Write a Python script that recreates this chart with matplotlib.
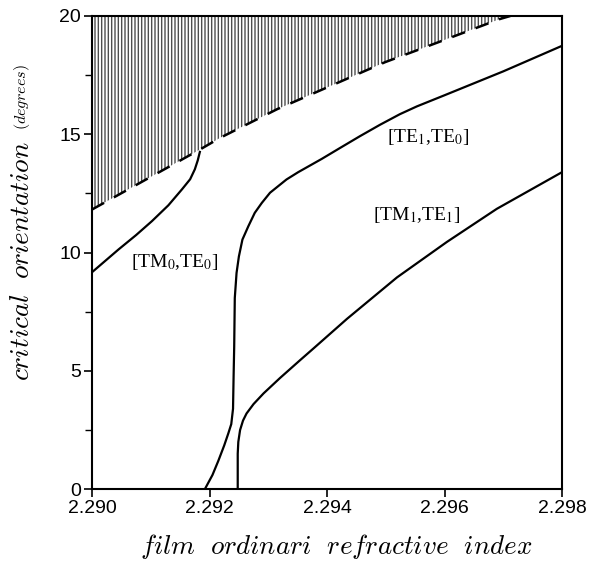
import numpy as np
import matplotlib
matplotlib.use("Agg")
import matplotlib.pyplot as plt
from matplotlib.ticker import MultipleLocator, FormatStrFormatter

# ---- data ----
boundary_x = [2.2900, 2.29184, 2.29218, 2.29315, 2.29499, 2.29553, 2.29694, 2.29712]
boundary_y = [11.82, 14.36, 14.85, 16.06, 18.05, 18.55, 19.87, 20.0]

tm0te0_x = [2.2900, 2.29045, 2.29075, 2.29102, 2.29130, 2.29153, 2.29167,
            2.29175, 2.29180, 2.29184]
tm0te0_y = [9.17, 10.13, 10.74, 11.33, 12.0, 12.67, 13.1,
            13.52, 13.9, 14.30]

te1te0_x = [2.29192, 2.29205, 2.29215, 2.29225, 2.29232, 2.29237, 2.29240,
            2.29241, 2.29242, 2.29243, 2.29246, 2.29250, 2.29256, 2.29266,
            2.29277, 2.29289, 2.29303, 2.29317, 2.29331, 2.29351, 2.29371,
            2.29391, 2.29422, 2.29456, 2.29490, 2.29524, 2.29553, 2.29600,
            2.29700, 2.29800]
te1te0_y = [0.0, 0.6, 1.2, 1.85, 2.36, 2.75, 3.4,
            4.8, 6.03, 8.08, 9.14, 9.84, 10.55, 11.11,
            11.68, 12.1, 12.53, 12.81, 13.09, 13.40, 13.68,
            13.96, 14.42, 14.92, 15.40, 15.85, 16.18, 16.65,
            17.66, 18.74]

tm1te1_x = [2.29248, 2.29248, 2.29249, 2.29252, 2.29257, 2.29263, 2.29275,
            2.29292, 2.29320, 2.29354, 2.29377, 2.29434, 2.29519, 2.29604,
            2.29689, 2.29800]
tm1te1_y = [0.0, 1.5, 2.0, 2.5, 2.9, 3.2, 3.6,
            4.05, 4.7, 5.45, 5.95, 7.2, 8.95, 10.45,
            11.85, 13.4]

labels = [r"[TM$_0$,TE$_0$]", r"[TE$_1$,TE$_0$]", r"[TM$_1$,TE$_1$]"]
label_x = [2.29141, 2.29572, 2.29553]
label_y = [9.6, 14.87, 11.6]

x_ticks = [2.290, 2.292, 2.294, 2.296, 2.298]
y_ticks = [0, 5, 10, 15, 20]

# ---- figure ----
fig = plt.figure(figsize=(5.91, 5.61), dpi=100)
ax = fig.add_axes([0.1557, 0.128, 0.7953, 0.8435])

plt.rcParams['hatch.linewidth'] = 1.0
ax.fill_between(boundary_x, boundary_y, 20, facecolor='none',
                edgecolor='0.3', hatch='|||||', linewidth=0)
ax.plot(boundary_x, boundary_y, color='black', lw=1.8, ls=(0, (5.5, 4.5)))

for xs, ys in [(tm0te0_x, tm0te0_y), (te1te0_x, te1te0_y), (tm1te1_x, tm1te1_y)]:
    ax.plot(xs, ys, color='black', lw=1.6, solid_capstyle='butt',
            solid_joinstyle='round')

for t, lx, ly in zip(labels, label_x, label_y):
    ax.text(lx, ly, t, ha='center', va='center', fontsize=14,
            family='Liberation Serif', math_fontfamily='stix')

ax.set_xlim(2.290, 2.298)
ax.set_ylim(0, 20)
ax.set_xticks(x_ticks)
ax.set_yticks(y_ticks)
ax.xaxis.set_major_formatter(FormatStrFormatter('%.3f'))
ax.yaxis.set_major_formatter(FormatStrFormatter('%d'))
ax.yaxis.set_minor_locator(MultipleLocator(2.5))
ax.tick_params(axis='both', which='major', direction='out', length=6, width=1.2,
               labelsize=14, pad=2)
ax.tick_params(axis='y', which='minor', direction='out', length=5, width=1.0)
for lab in ax.get_xticklabels() + ax.get_yticklabels():
    lab.set_family('Liberation Sans')
for sp in ax.spines.values():
    sp.set_linewidth(1.5)

fig.text(0.569, 0.025, r'$\mathit{film\ \ ordinari\ \ refractive\ \ index}$',
         ha='center', va='center', fontsize=19.5, math_fontfamily='cm')
fig.text(0.037, 0.535, r'$\mathit{critical\ \ orientation}$', rotation=90,
         ha='center', va='center', fontsize=19.5, math_fontfamily='cm')
fig.text(0.037, 0.826, r'$\mathit{(degrees)}$', rotation=90,
         ha='center', va='center', fontsize=11.5, math_fontfamily='cm')

fig.savefig('out.png', dpi=100)
